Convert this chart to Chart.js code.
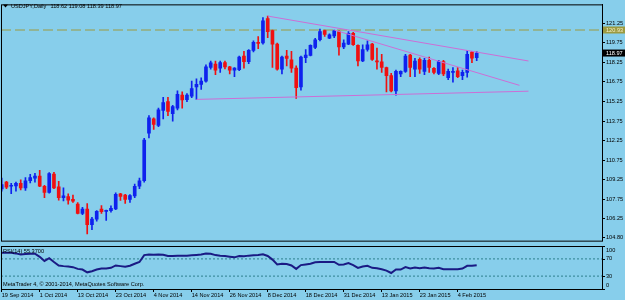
<!DOCTYPE html>
<html>
<head>
<meta charset="utf-8">
<script src="https://cdn.jsdelivr.net/npm/chart.js@4.4.1/dist/chart.umd.min.js"></script>
<style>
  html, body { margin: 0; padding: 0; background: #87ceeb; }
  #wrap { position: relative; width: 625px; height: 300px; background: #87ceeb; overflow: hidden; }
  canvas { position: absolute; left: 0; }
</style>
</head>
<body>
<div id="wrap">
  <canvas id="price" width="625" height="245" style="top:0;width:625px;height:245px"></canvas>
  <canvas id="rsi" width="625" height="55" style="top:245px;width:625px;height:55px"></canvas>
</div>
<script>
// USDJPY daily, 19 Sep 2014 .. 9 Feb 2015 (one entry per bar)
const opens = [108.54,109.06,108.74,108.76,108.96,108.61,109.16,109.36,109.51,108.74,
  108.26,109.68,108.69,107.86,107.94,107.73,107.36,106.66,106.99,105.79,
  106.21,106.99,106.81,106.86,106.99,108.16,108.06,107.73,108.00,108.74,
  109.16,112.81,113.91,113.41,114.56,115.24,114.31,114.74,115.74,115.39,
  115.66,116.36,116.56,116.81,117.86,118.12,117.81,118.24,117.91,117.66,
  117.70,118.74,118.31,119.17,119.79,119.74,121.61,120.69,119.66,117.74,
  118.74,118.44,117.81,116.36,118.61,118.79,119.41,119.99,120.69,120.11,
  120.29,120.61,119.44,119.66,120.49,119.56,118.36,119.24,119.66,118.36,
  118.29,117.86,117.24,116.06,117.36,117.56,118.81,117.74,118.49,117.56,
  118.41,117.79,117.41,118.31,117.07,117.49,117.61,117.24,117.49,119.04,
  118.62];
const highs = [109.36,109.11,108.96,109.06,109.24,109.41,109.66,109.74,109.96,108.80,
  109.79,109.80,109.11,108.61,108.16,108.06,107.49,107.11,107.41,106.36,
  106.86,107.26,106.90,107.24,108.24,108.20,108.11,108.10,108.91,109.36,
  112.41,114.16,114.00,114.74,115.56,115.56,114.95,116.06,115.99,115.86,
  116.81,116.99,117.07,118.06,118.36,118.36,118.36,118.36,117.95,117.86,
  118.74,119.11,119.24,119.91,120.24,121.69,121.81,120.74,119.74,118.74,
  119.17,119.11,117.99,118.74,119.24,119.61,120.11,120.81,120.74,120.44,
  120.74,120.67,119.99,120.61,120.56,119.61,119.61,119.91,119.71,119.36,
  118.87,117.90,117.41,117.66,117.61,118.87,118.87,118.57,118.61,118.57,
  118.66,117.86,118.41,118.41,117.74,117.86,117.86,117.66,119.17,119.11,
  119.08];
const lows = [108.36,108.56,108.16,108.36,108.46,108.41,108.99,109.06,108.70,107.86,
  108.21,108.56,107.66,107.61,107.36,107.49,106.61,106.56,105.07,105.41,
  106.06,106.66,106.12,106.74,106.94,107.64,107.41,107.49,107.86,108.56,
  109.06,112.46,113.11,113.31,113.91,114.16,113.74,114.61,114.74,115.24,
  115.55,115.41,116.17,116.74,117.74,117.31,117.49,117.76,117.36,117.16,
  117.61,117.81,118.16,119.06,119.31,119.66,120.16,117.86,117.66,117.36,
  117.99,117.49,115.49,116.11,118.24,118.74,119.31,119.91,120.24,120.07,
  120.16,118.81,119.31,119.61,119.56,117.99,118.31,119.11,118.41,117.74,
  117.49,115.99,115.99,115.74,117.16,117.49,117.16,117.16,117.41,117.31,
  117.49,117.36,117.31,117.24,116.92,116.74,117.07,116.92,117.11,118.24,
  118.39];
const closes = [108.86,108.67,108.78,108.96,108.61,109.16,109.41,109.51,108.74,108.26,
  109.71,108.61,107.86,108.01,107.66,107.59,106.66,106.99,105.79,106.21,
  106.81,106.79,106.86,107.04,108.11,107.96,107.73,108.03,108.74,109.16,
  112.29,113.99,113.49,114.61,115.16,114.49,114.86,115.79,115.36,115.74,
  116.24,116.56,116.81,117.91,118.21,117.66,118.24,117.91,117.66,117.81,
  118.66,118.31,119.17,119.79,119.71,121.44,120.61,119.66,117.74,118.66,
  118.56,117.81,116.31,118.66,118.81,119.56,119.99,120.61,120.41,120.37,
  120.67,119.44,119.74,120.49,119.61,118.36,119.24,119.61,118.49,118.29,
  117.86,117.24,116.06,117.56,117.56,118.74,117.86,118.36,117.74,118.41,
  117.86,117.49,118.31,117.36,117.56,117.56,117.16,117.49,118.87,118.57,
  118.97];
const rsiValues = [84.4,84.4,84.4,82.8,80.4,81.2,82.0,82.0,74.8,65.2,
  71.6,62.8,54.8,53.2,52.4,50.8,46.8,45.2,38.8,41.2,
  45.2,47.6,47.6,49.2,54.8,53.2,51.6,54.0,58.8,62.8,
  78.8,80.0,79.6,80.4,79.6,76.8,76.8,77.6,77.6,77.6,
  78.4,79.2,80.0,82.4,82.0,78.8,77.6,76.8,75.2,73.6,
  76.8,76.0,77.6,78.4,79.2,80.8,76.8,68.4,57.2,58.8,
  58.0,54.8,46.8,55.6,57.2,58.8,62.0,62.8,62.8,62.8,
  62.8,56.4,57.2,60.4,55.6,49.2,52.4,54.0,49.2,48.4,
  46.0,42.8,37.2,45.2,45.2,50.8,47.6,50.0,48.4,50.0,
  48.4,47.6,49.2,46.0,46.0,46.0,46.0,47.6,54.0,54.0,
  55.37];
const dateLabels = ['19 Sep 2014','1 Oct 2014','13 Oct 2014','23 Oct 2014','4 Nov 2014',
  '14 Nov 2014','26 Nov 2014','8 Dec 2014','18 Dec 2014','31 Dec 2014',
  '13 Jan 2015','23 Jan 2015','4 Feb 2015'];
const labelStep = 8;
const priceTicks = [104.80,106.25,107.75,109.25,110.75,112.25,113.75,115.25,116.75,118.25,119.75,121.25];
const rsiLevels = [0, 30, 70, 100];
const levelPrice = 120.74;
const levelText = '120.93';
const bidPrice = 118.97;
// trend lines: [bar index, price]
const trendUpper = [[56, 121.81], [110.9, 118.36]];
const trendMiddle = [[70, 120.74], [109, 116.49]];
const trendLower = [[41, 115.41], [110.9, 116.04]];

const X_MIN = -0.15, X_MAX = 126.38;
const BG = '#87ceeb';
const FONT = 'Liberation Sans';
const BULL = '#0f22ee';
const BEAR = '#f01010';
const TREND = '#cc6ed6';

const idx = closes.map((_, i) => i);
const candleColors = idx.map(i => closes[i] >= opens[i] ? BULL : BEAR);
const toPts = arr => arr.map(p => ({ x: p[0], y: p[1] }));

const frame = {
  id: 'frame',
  beforeDraw(chart) {
    const c = chart.ctx;
    c.save();
    c.fillStyle = BG;
    c.fillRect(0, 0, chart.width, chart.height);
    c.restore();
  },
  afterDraw(chart) {
    const { left, top, right, bottom } = chart.chartArea;
    const c = chart.ctx;
    c.save();
    c.strokeStyle = '#000';
    c.lineWidth = 1;
    c.strokeRect(left + 0.5, top + 0.5, right - left, bottom - top);
    c.restore();
  }
};

const priceDecor = {
  id: 'priceDecor',
  afterDraw(chart) {
    const c = chart.ctx;
    const y = chart.scales.y;
    const right = chart.chartArea.right;
    c.save();
    c.font = '5.6px "' + FONT + '"';
    c.textBaseline = 'middle';
    // header
    c.fillStyle = '#000';
    c.beginPath();
    c.moveTo(3, 4.5); c.lineTo(8, 4.5); c.lineTo(5.5, 7.5); c.closePath(); c.fill();
    c.fillText('USDJPY,Daily', 11, 6.5);
    c.fillText([opens[100], highs[100], lows[100], closes[100]].map(v => v.toFixed(2)).join(' '), 50.5, 6.5);
    // price boxes
    const box = (v, bg, fg, txt) => {
      const py = y.getPixelForValue(v);
      c.fillStyle = bg;
      c.fillRect(right + 1, py - 3.5, 625 - right - 1, 7);
      c.fillStyle = fg;
      c.fillText(txt, right + 4, py + 0.3);
    };
    box(levelPrice, '#9c9a40', '#f4f0c8', levelText);
    box(bidPrice, '#000', '#fff', bidPrice.toFixed(2));
    c.restore();
  }
};

new Chart(document.getElementById('price'), {
  type: 'bar',
  data: {
    datasets: [
      { type: 'line', data: toPts(trendUpper), borderColor: TREND, borderWidth: 1, pointRadius: 0, order: -2 },
      { type: 'line', data: toPts(trendMiddle), borderColor: TREND, borderWidth: 1, pointRadius: 0, order: -2 },
      { type: 'line', data: toPts(trendLower), borderColor: TREND, borderWidth: 1, pointRadius: 0, order: -2 },
      { type: 'line', data: [{ x: X_MIN, y: levelPrice }, { x: X_MAX, y: levelPrice }],
        borderColor: '#9c9a40', borderWidth: 1, borderDash: [10, 4], pointRadius: 0, order: 3 },
      { data: idx.map(i => ({ x: i, y: [opens[i], closes[i]] })), backgroundColor: candleColors,
        barThickness: 3, minBarLength: 1, grouped: false, order: 0 },
      { data: idx.map(i => ({ x: i, y: [lows[i], highs[i]] })), backgroundColor: candleColors,
        barThickness: 1, grouped: false, order: 1 }
    ]
  },
  options: {
    responsive: false,
    animation: false,
    layout: { padding: { left: 1, top: 1.5, right: 0, bottom: 1 } },
    plugins: { legend: { display: false }, tooltip: { enabled: false } },
    scales: {
      x: { type: 'linear', min: X_MIN, max: X_MAX, offset: false, display: false },
      y: {
        position: 'right', min: 104.56, max: 122.71,
        afterBuildTicks: s => { s.ticks = priceTicks.map(v => ({ value: v })); },
        afterFit: s => { s.width = 23; },
        ticks: { font: { family: FONT, size: 5.6 }, color: '#000', padding: 1, autoSkip: false,
                 callback: v => v.toFixed(2) },
        grid: { drawOnChartArea: false, tickLength: 3, color: '#000' },
        border: { color: '#000' }
      }
    }
  },
  plugins: [frame, priceDecor]
});

const rsiDecor = {
  id: 'rsiDecor',
  afterDraw(chart) {
    const c = chart.ctx;
    const y = chart.scales.y;
    const { top, bottom, right } = chart.chartArea;
    c.save();
    c.font = '5.6px "' + FONT + '"';
    c.textBaseline = 'middle';
    c.fillStyle = '#000';
    c.fillText('RSI(14) ' + rsiValues[rsiValues.length - 1].toFixed(4), 3, top + 5);
    c.fillText('MetaTrader 4, \u00a9 2001-2014, MetaQuotes Software Corp.', 3, bottom - 4.5);
    c.strokeStyle = '#000';
    c.lineWidth = 1;
    rsiLevels.forEach(v => {
      const py = y.getPixelForValue(v);
      const ty = Math.min(Math.max(py, top + 4), bottom - 4);
      c.beginPath();
      c.moveTo(right, Math.round(py) + 0.5);
      c.lineTo(right + 3, Math.round(py) + 0.5);
      c.stroke();
      c.fillText(String(v), right + 4, ty);
    });
    c.restore();
  }
};

new Chart(document.getElementById('rsi'), {
  type: 'line',
  data: {
    datasets: [
      { data: idx.map(i => ({ x: i, y: rsiValues[i] })), borderColor: '#1a1a84', borderWidth: 2,
        pointRadius: 0, tension: 0, order: 0 },
      { data: [{ x: X_MIN, y: 70 }, { x: X_MAX, y: 70 }], borderColor: '#2e7f8e', borderWidth: 1,
        borderDash: [2, 2], pointRadius: 0, order: 1 },
      { data: [{ x: X_MIN, y: 30 }, { x: X_MAX, y: 30 }], borderColor: '#2e7f8e', borderWidth: 1,
        borderDash: [2, 2], pointRadius: 0, order: 1 }
    ]
  },
  options: {
    responsive: false,
    animation: false,
    layout: { padding: { left: 1, top: 1, right: 0, bottom: 0 } },
    plugins: { legend: { display: false }, tooltip: { enabled: false } },
    scales: {
      x: {
        type: 'linear', min: X_MIN, max: X_MAX,
        afterBuildTicks: s => { s.ticks = dateLabels.map((_, k) => ({ value: k * labelStep })); },
        afterFit: s => { s.height = 11; },
        ticks: { align: 'start', maxRotation: 0, autoSkip: false, padding: 0, color: '#000',
                 font: { family: FONT, size: 5.6 },
                 callback: v => dateLabels[Math.round(v / labelStep)] },
        grid: { drawOnChartArea: false, tickLength: 3, color: '#000' },
        border: { color: '#000' }
      },
      y: {
        position: 'right', min: 0, max: 100,
        afterFit: s => { s.width = 23; },
        ticks: { display: false },
        grid: { display: false },
        border: { color: '#000' }
      }
    }
  },
  plugins: [frame, rsiDecor]
});
</script>
</body>
</html>
